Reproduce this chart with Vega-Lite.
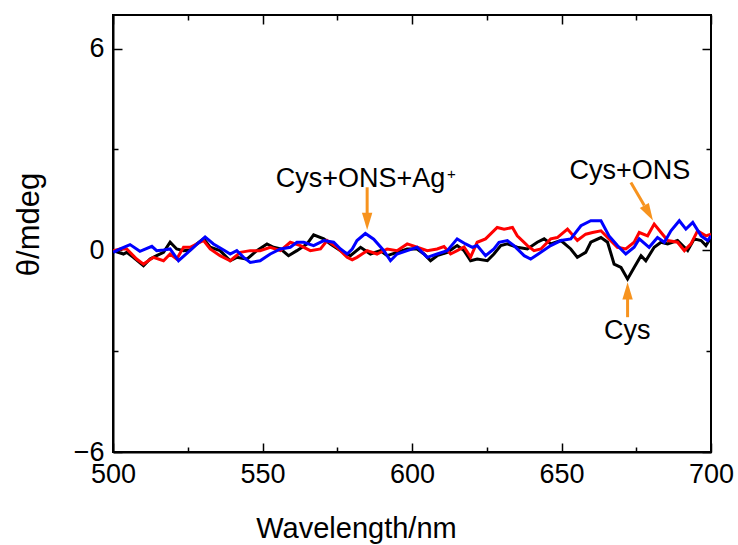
{
  "$schema": "https://vega.github.io/schema/vega-lite/v6.json",
  "width": 598,
  "height": 437,
  "autosize": "none",
  "padding": {"left": 113, "top": 15, "right": 27, "bottom": 93},
  "background": "white",
  "config": {"view": {"stroke": "black", "strokeWidth": 2}, "font": "Liberation Sans"},
  "datasets": {
    "spectra": [
      {"wl":500.1,"v":-0.01,"s":"Cys"},{"wl":503.5,"v":-0.11,"s":"Cys"},{"wl":504.6,"v":-0.06,"s":"Cys"},{"wl":506.8,"v":-0.21,"s":"Cys"},{"wl":510.2,"v":-0.46,"s":"Cys"},{"wl":512.4,"v":-0.26,"s":"Cys"},{"wl":514.6,"v":-0.16,"s":"Cys"},{"wl":516.9,"v":-0.06,"s":"Cys"},{"wl":519.1,"v":0.24,"s":"Cys"},{"wl":521.3,"v":0.04,"s":"Cys"},{"wl":523.6,"v":-0.01,"s":"Cys"},{"wl":525.8,"v":0.01,"s":"Cys"},{"wl":528.0,"v":0.19,"s":"Cys"},{"wl":530.3,"v":0.34,"s":"Cys"},{"wl":532.5,"v":0.09,"s":"Cys"},{"wl":535.8,"v":-0.01,"s":"Cys"},{"wl":539.2,"v":-0.31,"s":"Cys"},{"wl":541.4,"v":-0.21,"s":"Cys"},{"wl":544.8,"v":-0.26,"s":"Cys"},{"wl":548.1,"v":-0.01,"s":"Cys"},{"wl":551.5,"v":0.19,"s":"Cys"},{"wl":553.7,"v":0.09,"s":"Cys"},{"wl":556.0,"v":0.04,"s":"Cys"},{"wl":558.7,"v":-0.16,"s":"Cys"},{"wl":561.5,"v":-0.01,"s":"Cys"},{"wl":564.9,"v":0.19,"s":"Cys"},{"wl":567.1,"v":0.46,"s":"Cys"},{"wl":570.5,"v":0.34,"s":"Cys"},{"wl":572.7,"v":0.19,"s":"Cys"},{"wl":576.1,"v":-0.01,"s":"Cys"},{"wl":579.4,"v":-0.16,"s":"Cys"},{"wl":582.8,"v":0.09,"s":"Cys"},{"wl":586.1,"v":-0.11,"s":"Cys"},{"wl":589.4,"v":-0.01,"s":"Cys"},{"wl":591.7,"v":-0.16,"s":"Cys"},{"wl":595.0,"v":-0.06,"s":"Cys"},{"wl":598.4,"v":0.04,"s":"Cys"},{"wl":601.7,"v":0.04,"s":"Cys"},{"wl":604.0,"v":-0.11,"s":"Cys"},{"wl":606.2,"v":-0.31,"s":"Cys"},{"wl":608.4,"v":-0.16,"s":"Cys"},{"wl":611.8,"v":-0.06,"s":"Cys"},{"wl":615.1,"v":0.14,"s":"Cys"},{"wl":617.4,"v":-0.01,"s":"Cys"},{"wl":619.6,"v":-0.31,"s":"Cys"},{"wl":621.8,"v":-0.26,"s":"Cys"},{"wl":625.2,"v":-0.31,"s":"Cys"},{"wl":627.4,"v":-0.11,"s":"Cys"},{"wl":629.7,"v":0.14,"s":"Cys"},{"wl":631.9,"v":0.19,"s":"Cys"},{"wl":635.2,"v":0.09,"s":"Cys"},{"wl":638.6,"v":0.04,"s":"Cys"},{"wl":641.9,"v":0.24,"s":"Cys"},{"wl":644.2,"v":0.34,"s":"Cys"},{"wl":646.4,"v":0.19,"s":"Cys"},{"wl":649.8,"v":0.29,"s":"Cys"},{"wl":653.1,"v":0.04,"s":"Cys"},{"wl":655.3,"v":-0.21,"s":"Cys"},{"wl":658.1,"v":-0.06,"s":"Cys"},{"wl":659.8,"v":0.24,"s":"Cys"},{"wl":663.2,"v":0.38,"s":"Cys"},{"wl":665.4,"v":0.24,"s":"Cys"},{"wl":667.6,"v":-0.41,"s":"Cys"},{"wl":669.9,"v":-0.51,"s":"Cys"},{"wl":672.1,"v":-0.85,"s":"Cys"},{"wl":674.3,"v":-0.51,"s":"Cys"},{"wl":676.6,"v":-0.16,"s":"Cys"},{"wl":678.2,"v":-0.31,"s":"Cys"},{"wl":681.0,"v":0.09,"s":"Cys"},{"wl":683.3,"v":0.24,"s":"Cys"},{"wl":685.5,"v":0.19,"s":"Cys"},{"wl":688.8,"v":0.29,"s":"Cys"},{"wl":692.2,"v":-0.01,"s":"Cys"},{"wl":694.4,"v":0.34,"s":"Cys"},{"wl":696.7,"v":0.29,"s":"Cys"},{"wl":698.3,"v":0.14,"s":"Cys"},{"wl":700.0,"v":0.38,"s":"Cys"},
      {"wl":500.1,"v":-0.01,"s":"Cys+ONS"},{"wl":502.4,"v":0.04,"s":"Cys+ONS"},{"wl":504.6,"v":0.04,"s":"Cys+ONS"},{"wl":507.9,"v":-0.26,"s":"Cys+ONS"},{"wl":510.2,"v":-0.41,"s":"Cys+ONS"},{"wl":513.5,"v":-0.21,"s":"Cys+ONS"},{"wl":516.9,"v":-0.31,"s":"Cys+ONS"},{"wl":519.1,"v":-0.11,"s":"Cys+ONS"},{"wl":521.3,"v":-0.26,"s":"Cys+ONS"},{"wl":523.6,"v":0.09,"s":"Cys+ONS"},{"wl":525.8,"v":0.09,"s":"Cys+ONS"},{"wl":529.1,"v":0.24,"s":"Cys+ONS"},{"wl":530.3,"v":0.29,"s":"Cys+ONS"},{"wl":532.5,"v":0.04,"s":"Cys+ONS"},{"wl":535.8,"v":-0.16,"s":"Cys+ONS"},{"wl":539.2,"v":-0.31,"s":"Cys+ONS"},{"wl":542.6,"v":-0.06,"s":"Cys+ONS"},{"wl":545.9,"v":-0.01,"s":"Cys+ONS"},{"wl":549.2,"v":-0.01,"s":"Cys+ONS"},{"wl":552.6,"v":0.09,"s":"Cys+ONS"},{"wl":556.0,"v":-0.01,"s":"Cys+ONS"},{"wl":559.3,"v":0.24,"s":"Cys+ONS"},{"wl":562.7,"v":0.14,"s":"Cys+ONS"},{"wl":566.0,"v":-0.01,"s":"Cys+ONS"},{"wl":569.4,"v":0.04,"s":"Cys+ONS"},{"wl":571.6,"v":0.29,"s":"Cys+ONS"},{"wl":574.9,"v":0.09,"s":"Cys+ONS"},{"wl":578.3,"v":-0.21,"s":"Cys+ONS"},{"wl":580.0,"v":-0.28,"s":"Cys+ONS"},{"wl":581.6,"v":-0.21,"s":"Cys+ONS"},{"wl":585.0,"v":-0.01,"s":"Cys+ONS"},{"wl":588.3,"v":-0.11,"s":"Cys+ONS"},{"wl":591.7,"v":0.04,"s":"Cys+ONS"},{"wl":595.0,"v":-0.01,"s":"Cys+ONS"},{"wl":598.4,"v":0.19,"s":"Cys+ONS"},{"wl":601.7,"v":0.09,"s":"Cys+ONS"},{"wl":605.1,"v":-0.01,"s":"Cys+ONS"},{"wl":608.4,"v":0.04,"s":"Cys+ONS"},{"wl":610.7,"v":0.11,"s":"Cys+ONS"},{"wl":612.9,"v":-0.11,"s":"Cys+ONS"},{"wl":615.1,"v":-0.01,"s":"Cys+ONS"},{"wl":617.4,"v":0.1,"s":"Cys+ONS"},{"wl":619.6,"v":-0.2,"s":"Cys+ONS"},{"wl":621.8,"v":0.24,"s":"Cys+ONS"},{"wl":624.6,"v":0.34,"s":"Cys+ONS"},{"wl":628.5,"v":0.68,"s":"Cys+ONS"},{"wl":630.8,"v":0.63,"s":"Cys+ONS"},{"wl":633.6,"v":0.68,"s":"Cys+ONS"},{"wl":635.2,"v":0.43,"s":"Cys+ONS"},{"wl":638.6,"v":0.14,"s":"Cys+ONS"},{"wl":640.8,"v":-0.01,"s":"Cys+ONS"},{"wl":643.1,"v":0.04,"s":"Cys+ONS"},{"wl":646.4,"v":0.34,"s":"Cys+ONS"},{"wl":648.6,"v":0.38,"s":"Cys+ONS"},{"wl":652.0,"v":0.63,"s":"Cys+ONS"},{"wl":655.3,"v":0.29,"s":"Cys+ONS"},{"wl":658.1,"v":0.48,"s":"Cys+ONS"},{"wl":660.4,"v":0.53,"s":"Cys+ONS"},{"wl":663.2,"v":0.58,"s":"Cys+ONS"},{"wl":665.9,"v":0.34,"s":"Cys+ONS"},{"wl":668.7,"v":0.09,"s":"Cys+ONS"},{"wl":671.5,"v":0.04,"s":"Cys+ONS"},{"wl":674.3,"v":0.24,"s":"Cys+ONS"},{"wl":676.0,"v":0.53,"s":"Cys+ONS"},{"wl":678.8,"v":0.43,"s":"Cys+ONS"},{"wl":681.0,"v":0.78,"s":"Cys+ONS"},{"wl":683.3,"v":0.53,"s":"Cys+ONS"},{"wl":685.5,"v":0.29,"s":"Cys+ONS"},{"wl":688.8,"v":0.24,"s":"Cys+ONS"},{"wl":691.1,"v":-0.01,"s":"Cys+ONS"},{"wl":693.3,"v":0.19,"s":"Cys+ONS"},{"wl":695.5,"v":0.58,"s":"Cys+ONS"},{"wl":698.3,"v":0.43,"s":"Cys+ONS"},{"wl":700.0,"v":0.48,"s":"Cys+ONS"},
      {"wl":500.1,"v":-0.06,"s":"Cys+ONS+Ag+"},{"wl":502.4,"v":0.04,"s":"Cys+ONS+Ag+"},{"wl":505.7,"v":0.17,"s":"Cys+ONS+Ag+"},{"wl":509.0,"v":-0.03,"s":"Cys+ONS+Ag+"},{"wl":513.0,"v":0.12,"s":"Cys+ONS+Ag+"},{"wl":514.6,"v":-0.01,"s":"Cys+ONS+Ag+"},{"wl":516.9,"v":0.01,"s":"Cys+ONS+Ag+"},{"wl":519.1,"v":0.04,"s":"Cys+ONS+Ag+"},{"wl":521.9,"v":-0.31,"s":"Cys+ONS+Ag+"},{"wl":524.7,"v":-0.09,"s":"Cys+ONS+Ag+"},{"wl":526.9,"v":0.09,"s":"Cys+ONS+Ag+"},{"wl":530.8,"v":0.40,"s":"Cys+ONS+Ag+"},{"wl":533.6,"v":0.19,"s":"Cys+ONS+Ag+"},{"wl":537.0,"v":0.01,"s":"Cys+ONS+Ag+"},{"wl":539.2,"v":-0.11,"s":"Cys+ONS+Ag+"},{"wl":541.4,"v":-0.01,"s":"Cys+ONS+Ag+"},{"wl":543.7,"v":-0.21,"s":"Cys+ONS+Ag+"},{"wl":545.9,"v":-0.36,"s":"Cys+ONS+Ag+"},{"wl":549.2,"v":-0.31,"s":"Cys+ONS+Ag+"},{"wl":552.6,"v":-0.11,"s":"Cys+ONS+Ag+"},{"wl":556.0,"v":0.04,"s":"Cys+ONS+Ag+"},{"wl":559.3,"v":0.09,"s":"Cys+ONS+Ag+"},{"wl":561.5,"v":0.24,"s":"Cys+ONS+Ag+"},{"wl":563.8,"v":0.24,"s":"Cys+ONS+Ag+"},{"wl":567.1,"v":0.14,"s":"Cys+ONS+Ag+"},{"wl":570.5,"v":0.29,"s":"Cys+ONS+Ag+"},{"wl":573.8,"v":0.24,"s":"Cys+ONS+Ag+"},{"wl":576.1,"v":0.04,"s":"Cys+ONS+Ag+"},{"wl":578.3,"v":-0.11,"s":"Cys+ONS+Ag+"},{"wl":580.0,"v":0.04,"s":"Cys+ONS+Ag+"},{"wl":581.6,"v":0.29,"s":"Cys+ONS+Ag+"},{"wl":584.4,"v":0.50,"s":"Cys+ONS+Ag+"},{"wl":587.2,"v":0.33,"s":"Cys+ONS+Ag+"},{"wl":590.6,"v":-0.01,"s":"Cys+ONS+Ag+"},{"wl":592.8,"v":-0.31,"s":"Cys+ONS+Ag+"},{"wl":595.0,"v":-0.11,"s":"Cys+ONS+Ag+"},{"wl":598.4,"v":-0.01,"s":"Cys+ONS+Ag+"},{"wl":601.7,"v":0.09,"s":"Cys+ONS+Ag+"},{"wl":605.1,"v":-0.21,"s":"Cys+ONS+Ag+"},{"wl":608.4,"v":-0.11,"s":"Cys+ONS+Ag+"},{"wl":611.8,"v":-0.01,"s":"Cys+ONS+Ag+"},{"wl":615.1,"v":0.34,"s":"Cys+ONS+Ag+"},{"wl":617.9,"v":0.19,"s":"Cys+ONS+Ag+"},{"wl":620.2,"v":0.09,"s":"Cys+ONS+Ag+"},{"wl":621.8,"v":0.14,"s":"Cys+ONS+Ag+"},{"wl":624.6,"v":-0.16,"s":"Cys+ONS+Ag+"},{"wl":627.4,"v":0.04,"s":"Cys+ONS+Ag+"},{"wl":629.1,"v":0.24,"s":"Cys+ONS+Ag+"},{"wl":631.9,"v":0.29,"s":"Cys+ONS+Ag+"},{"wl":634.1,"v":0.14,"s":"Cys+ONS+Ag+"},{"wl":637.5,"v":-0.16,"s":"Cys+ONS+Ag+"},{"wl":639.7,"v":-0.26,"s":"Cys+ONS+Ag+"},{"wl":643.1,"v":-0.06,"s":"Cys+ONS+Ag+"},{"wl":646.4,"v":0.14,"s":"Cys+ONS+Ag+"},{"wl":649.8,"v":0.29,"s":"Cys+ONS+Ag+"},{"wl":653.1,"v":0.34,"s":"Cys+ONS+Ag+"},{"wl":656.5,"v":0.73,"s":"Cys+ONS+Ag+"},{"wl":659.8,"v":0.88,"s":"Cys+ONS+Ag+"},{"wl":663.2,"v":0.88,"s":"Cys+ONS+Ag+"},{"wl":665.9,"v":0.43,"s":"Cys+ONS+Ag+"},{"wl":668.7,"v":0.14,"s":"Cys+ONS+Ag+"},{"wl":671.5,"v":-0.11,"s":"Cys+ONS+Ag+"},{"wl":674.3,"v":0.09,"s":"Cys+ONS+Ag+"},{"wl":676.0,"v":0.34,"s":"Cys+ONS+Ag+"},{"wl":679.3,"v":0.09,"s":"Cys+ONS+Ag+"},{"wl":682.1,"v":0.38,"s":"Cys+ONS+Ag+"},{"wl":684.4,"v":0.24,"s":"Cys+ONS+Ag+"},{"wl":686.6,"v":0.58,"s":"Cys+ONS+Ag+"},{"wl":689.4,"v":0.88,"s":"Cys+ONS+Ag+"},{"wl":691.6,"v":0.63,"s":"Cys+ONS+Ag+"},{"wl":693.9,"v":0.83,"s":"Cys+ONS+Ag+"},{"wl":696.7,"v":0.43,"s":"Cys+ONS+Ag+"},{"wl":698.9,"v":0.29,"s":"Cys+ONS+Ag+"},{"wl":700.0,"v":0.43,"s":"Cys+ONS+Ag+"}
    ],
    "labels": [
      {"wl":582.75,"v":1.875,"text":"Cys+ONS+Ag"},
      {"wl":672.9,"v":2.11,"text":"Cys+ONS"},
      {"wl":672.0,"v":-2.65,"text":"Cys"}
    ],
    "sup": [{"wl":613.2,"v":2.26,"text":"+"}],
    "shafts": [
      {"wl":585.0,"v":1.875,"wl2":585.0,"v2":1.07},
      {"wl":673.2,"v":2.02,"wl2":677.7,"v2":1.33},
      {"wl":672.1,"v":-1.99,"wl2":672.1,"v2":-1.40}
    ],
    "headDown": [{"wl":585.0,"v":0.86}],
    "headDiag": [{"wl":679.15,"v":1.11}],
    "headUp": [{"wl":672.1,"v":-1.205}]
  },
  "layer": [
    {
      "data": {"name": "spectra"},
      "mark": {"type": "line", "strokeWidth": 3, "clip": true},
      "encoding": {
        "x": {"field": "wl", "type": "quantitative",
          "scale": {"domain": [500, 700], "nice": false, "zero": false},
          "axis": {"orient": "bottom", "title": "Wavelength/nm", "values": [500,525,550,575,600,625,650,675,700],
            "labelExpr": "datum.value % 50 === 0 ? datum.label : ''",
            "tickSize": {"condition": {"test": "datum.value % 50 === 0", "value": -9}, "value": -5},
            "tickColor": "black", "tickWidth": 1.5, "domainColor": "black", "domainWidth": 2,
            "labelFont": "Liberation Sans", "labelFontSize": 27, "labelColor": "black", "labelPadding": 18, "labelFlush": false,
            "titleFont": "Liberation Sans", "titleFontSize": 29, "titleFontWeight": "normal", "titleColor": "black",
            "titleX": 243, "titleY": 85, "titleAlign": "center", "titleBaseline": "alphabetic", "grid": false}},
        "y": {"field": "v", "type": "quantitative",
          "scale": {"domain": [-6, 7], "nice": false, "zero": false},
          "axis": {"orient": "left", "title": "θ/mdeg", "values": [-6,-3,0,3,6],
            "labelExpr": "datum.value % 6 === 0 ? datum.label : ''",
            "tickSize": {"condition": {"test": "datum.value % 6 === 0", "value": -9}, "value": -5},
            "tickColor": "black", "tickWidth": 1.5, "domainColor": "black", "domainWidth": 2,
            "labelFont": "Liberation Sans", "labelFontSize": 27, "labelColor": "black", "labelPadding": 18, "labelFlush": false,
            "titleFont": "Liberation Sans", "titleFontSize": 31, "titleFontWeight": "normal", "titleColor": "black",
            "titleX": -75, "titleY": 209, "titleAlign": "center", "titleBaseline": "alphabetic", "titleAngle": -90, "grid": false}},
        "color": {"field": "s", "type": "nominal",
          "scale": {"domain": ["Cys", "Cys+ONS", "Cys+ONS+Ag+"], "range": ["#000000", "#ff0000", "#0000ff"]},
          "legend": null}
      }
    },
    {
      "data": {"name": "spectra"},
      "mark": {"type": "line", "opacity": 0},
      "encoding": {
        "x": {"field": "wl", "type": "quantitative",
          "axis": {"orient": "top", "title": null, "values": [500,525,550,575,600,625,650,675,700], "labels": false, "domain": false,
            "tickSize": {"condition": {"test": "datum.value % 50 === 0", "value": -9}, "value": -5},
            "tickColor": "black", "tickWidth": 1.5, "grid": false}},
        "y": {"field": "v", "type": "quantitative",
          "axis": {"orient": "right", "title": null, "values": [-6,-3,0,3,6], "labels": false, "domain": false,
            "tickSize": {"condition": {"test": "datum.value % 6 === 0", "value": -9}, "value": -5},
            "tickColor": "black", "tickWidth": 1.5, "grid": false}},
        "detail": {"field": "s"}
      }
    },
    {
      "data": {"name": "shafts"},
      "mark": {"type": "rule", "color": "#f7931e", "strokeWidth": 3},
      "encoding": {
        "x": {"field": "wl", "type": "quantitative", "axis": null},
        "x2": {"field": "wl2"},
        "y": {"field": "v", "type": "quantitative", "axis": null},
        "y2": {"field": "v2"}
      }
    },
    {
      "data": {"name": "headDown"},
      "mark": {"type": "point", "shape": "M-0.6,-1L0.6,-1L0,1Z", "size": 300, "filled": true, "color": "#f7931e", "opacity": 1},
      "encoding": {
        "x": {"field": "wl", "type": "quantitative", "axis": null},
        "y": {"field": "v", "type": "quantitative", "axis": null}
      }
    },
    {
      "data": {"name": "headDiag"},
      "mark": {"type": "point", "shape": "M-0.6,-1L0.6,-1L0,1Z", "size": 300, "filled": true, "color": "#f7931e", "opacity": 1, "angle": 330},
      "encoding": {
        "x": {"field": "wl", "type": "quantitative", "axis": null},
        "y": {"field": "v", "type": "quantitative", "axis": null}
      }
    },
    {
      "data": {"name": "headUp"},
      "mark": {"type": "point", "shape": "M-0.6,1L0.6,1L0,-1Z", "size": 300, "filled": true, "color": "#f7931e", "opacity": 1},
      "encoding": {
        "x": {"field": "wl", "type": "quantitative", "axis": null},
        "y": {"field": "v", "type": "quantitative", "axis": null}
      }
    },
    {
      "data": {"name": "labels"},
      "mark": {"type": "text", "font": "Liberation Sans", "fontSize": 27, "align": "center", "baseline": "alphabetic", "color": "black"},
      "encoding": {
        "x": {"field": "wl", "type": "quantitative", "axis": null},
        "y": {"field": "v", "type": "quantitative", "axis": null},
        "text": {"field": "text"}
      }
    },
    {
      "data": {"name": "sup"},
      "mark": {"type": "text", "font": "Liberation Sans", "fontSize": 15, "align": "center", "baseline": "middle", "color": "black"},
      "encoding": {
        "x": {"field": "wl", "type": "quantitative", "axis": null},
        "y": {"field": "v", "type": "quantitative", "axis": null},
        "text": {"field": "text"}
      }
    }
  ],
  "resolve": {"axis": {"x": "independent", "y": "independent"}}
}
